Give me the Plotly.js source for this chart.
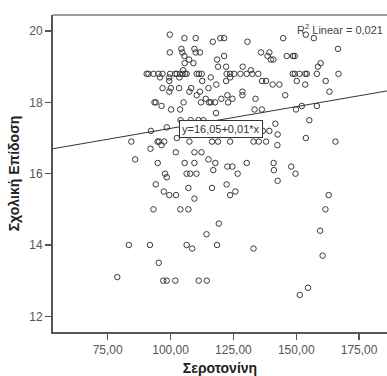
<!DOCTYPE html>
<html>
<head>
<meta charset="utf-8">
<script src="https://cdn.plot.ly/plotly-3.0.1.min.js"></script>
<style>html,body{margin:0;padding:0;background:#fff;}#chart{width:387px;height:376px;}</style>
</head>
<body>
<div id="chart"></div>
<script>
// Serotonin (x) and school performance (y)
const serotonin = [
  99.7,153.8,
  105.5,110.0,119.8,121.3,144.8,157.0,
  116.8,130.6,
  104.3,109.5,166.6,
  99.7,104.7,110.0,111.7,136.0,139.3,
  105.5,121.3,138.6,146.2,148.7,149.4,
  107.4,118.5,139.9,140.9,
  105.6,109.1,159.7,
  118.9,122.1,128.7,158.6,
  105.0,131.9,
  90.5,91.2,93.2,95.2,96.8,99.8,101.8,102.5,103.8,104.8,105.8,106.4,110.4,111.3,112.4,122.3,123.7,125.3,127.8,130.3,132.5,134.9,148.6,149.4,151.3,153.6,154.2,158.2,166.8,
  95.8,99.5,103.5,116.0,123.7,
  99.5,112.6,122.1,136.4,138.0,150.2,161.7,
  118.2,140.6,143.3,153.6,
  96.8,100.1,103.4,108.2,115.1,
  99.5,107.5,111.7,128.6,163.2,
  110.4,122.6,128.6,145.6,
  114.0,120.2,124.6,133.8,
  93.6,94.1,105.2,112.1,115.3,116.0,117.7,122.9,
  96.4,152.2,158.2,
  100.2,103.8,133.4,136.3,149.9,
  118.1,
  104.0,108.0,111.1,113.1,155.2,
  135.6,141.7,
  98.5,
  92.2,136.7,139.3,
  142.6,
  102.5,153.8,
  84.4,94.8,95.4,97.5,107.5,116.5,118.9,123.7,133.0,135.1,138.0,165.6,
  96.4,142.5,
  92.0,
  102.1,109.5,112.3,
  85.9,115.1,
  94.9,105.6,109.5,117.8,130.3,141.0,
  122.6,124.6,148.0,
  117.0,141.1,
  97.8,106.4,107.8,110.3,126.7,149.7,
  98.5,
  142.6,
  94.1,122.3,
  107.1,116.5,
  97.3,125.8,
  99.5,102.2,123.7,162.9,
  109.5,
  93.2,103.9,107.1,161.6,
  119.2,
  159.5,
  114.3,
  83.4,91.8,106.4,118.5,
  108.6,133.0,
  160.5,
  95.3,
  78.8,
  97.1,98.5,101.9,111.2,114.4,
  154.7,
  151.4
];
const performance = [
  19.9,19.9,
  19.8,19.8,19.8,19.8,19.8,19.8,
  19.7,19.7,
  19.5,19.5,19.5,
  19.4,19.4,19.4,19.4,19.4,19.4,
  19.3,19.3,19.3,19.3,19.3,19.3,
  19.2,19.2,19.2,19.2,
  19.1,19.1,19.1,
  19.0,19.0,19.0,19.0,
  18.9,18.9,
  18.8,18.8,18.8,18.8,18.8,18.8,18.8,18.8,18.8,18.8,18.8,18.8,18.8,18.8,18.8,18.8,18.8,18.8,18.8,18.8,18.8,18.8,18.8,18.8,18.8,18.8,18.8,18.8,18.8,
  18.7,18.7,18.7,18.7,18.7,
  18.6,18.6,18.6,18.6,18.6,18.6,18.6,
  18.5,18.5,18.5,18.5,
  18.4,18.4,18.4,18.4,18.4,
  18.3,18.3,18.3,18.3,18.3,
  18.2,18.2,18.2,18.2,
  18.1,18.1,18.1,18.1,
  18.0,18.0,18.0,18.0,18.0,18.0,18.0,18.0,
  17.9,17.9,17.9,
  17.8,17.8,17.8,17.8,17.8,
  17.7,
  17.5,17.5,17.5,17.5,17.5,
  17.4,17.4,
  17.3,
  17.2,17.2,17.2,
  17.1,
  17.0,17.0,
  16.9,16.9,16.9,16.9,16.9,16.9,16.9,16.9,16.9,16.9,16.9,16.9,
  16.8,16.8,
  16.7,
  16.6,16.6,16.6,
  16.4,16.4,
  16.3,16.3,16.3,16.3,16.3,16.3,
  16.2,16.2,16.2,
  16.1,16.1,
  16.0,16.0,16.0,16.0,16.0,16.0,
  15.9,
  15.8,
  15.7,15.7,
  15.6,15.6,
  15.5,15.5,
  15.4,15.4,15.4,15.4,
  15.3,
  15.0,15.0,15.0,15.0,
  14.6,
  14.4,
  14.3,
  14.0,14.0,14.0,14.0,
  13.9,13.9,
  13.7,
  13.5,
  13.1,
  13.0,13.0,13.0,13.0,13.0,
  12.8,
  12.6
];

// Fit line (as shown on the chart) and axis ticks
const fitIntercept = 16.05;
const fitSlope = 0.0122;
const xTickVals = [75, 100, 125, 150, 175];
const xTickText = ["75,00", "100,00", "125,00", "150,00", "175,00"];
const yTickVals = [12, 14, 16, 18, 20];
const yTickText = ["12", "14", "16", "18", "20"];
const xRange = [53.24, 186.1];
const yRange = [11.56, 20.45];
const fitLabel = "y=16,05+0,01*x";
const r2Label = "R<sup>2</sup> Linear = 0,021";

const lineX = xRange.slice();
const lineY = lineX.map(v => fitIntercept + fitSlope * v);

const grey = "#3a3a3a";
const font = "Liberation Sans, Arial, sans-serif";

const traces = [
  {
    x: serotonin, y: performance, type: "scatter", mode: "markers",
    marker: {symbol: "circle-open", size: 5.5, color: grey, line: {width: 1, color: grey}},
    hoverinfo: "skip", cliponaxis: false
  },
  {
    x: lineX, y: lineY, type: "scatter", mode: "lines",
    line: {color: "#333", width: 1}, hoverinfo: "skip"
  }
];

const layout = {
  width: 387, height: 376,
  margin: {l: 53, r: 0, t: 15, b: 44},
  paper_bgcolor: "#fff", plot_bgcolor: "#fff",
  showlegend: false,
  font: {family: font, color: "#444", size: 12},
  xaxis: {
    range: xRange, tickvals: xTickVals, ticktext: xTickText,
    showgrid: false, zeroline: false, showline: true, linecolor: "#555", linewidth: 2,
    ticks: "outside", ticklen: 6, tickwidth: 1.5, tickcolor: "#555",
    tickfont: {family: font, size: 12, color: "#555"},
    title: {text: "Σεροτονίνη", font: {family: font, size: 14, color: "#222", weight: "bold"}, standoff: 10}
  },
  yaxis: {
    range: yRange, tickvals: yTickVals, ticktext: yTickText,
    showgrid: false, zeroline: false, showline: true, linecolor: "#555", linewidth: 2,
    ticks: "outside", ticklen: 6, tickwidth: 1.5, tickcolor: "#555",
    tickfont: {family: font, size: 12, color: "#555"},
    title: {text: "Σχολική Επίδοση", font: {family: font, size: 14, color: "#222", weight: "bold"}, standoff: 6}
  },
  shapes: [
    {type: "line", xref: "paper", yref: "paper", x0: 0, x1: 1, y0: 1, y1: 1, line: {color: "#777", width: 1.5}}
  ],
  annotations: [
    {
      xref: "paper", yref: "paper", x: 0.995, y: 0.985, xanchor: "right", yanchor: "top",
      text: r2Label, showarrow: false, font: {family: font, size: 11, color: "#444"}
    },
    {
      xref: "x", yref: "y", x: 120.1, y: 17.25, xanchor: "center", yanchor: "middle",
      text: fitLabel, showarrow: false, bgcolor: "#fff", bordercolor: "#333", borderwidth: 1, borderpad: 2,
      font: {family: font, size: 11, color: "#333"}
    }
  ]
};

Plotly.newPlot("chart", traces, layout, {displayModeBar: false, staticPlot: true});
</script>
</body>
</html>
